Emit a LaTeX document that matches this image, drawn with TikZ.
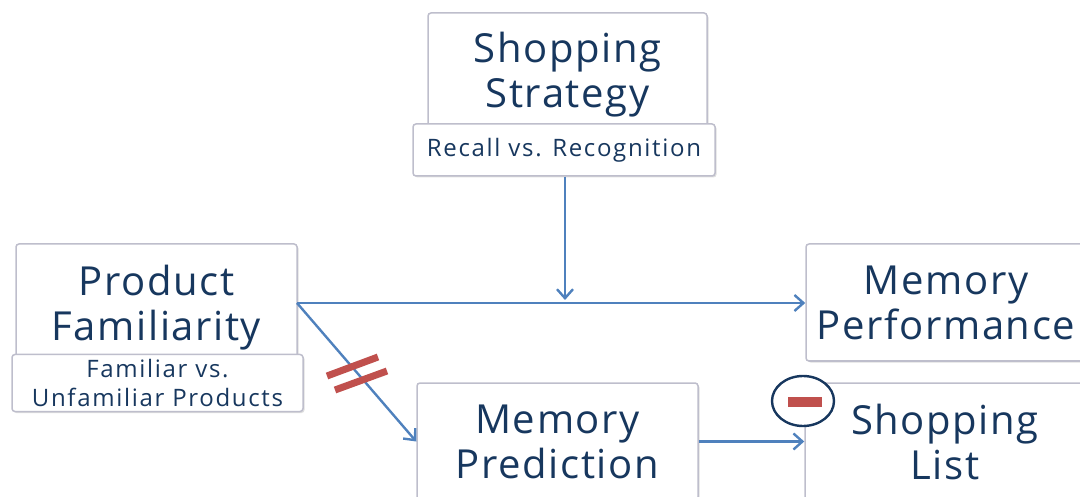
\documentclass[tikz,border=0pt]{standalone}
\usepackage{fontspec}
\setmainfont{Open Sans}
\newfontfamily\bigfont[LetterSpace=4]{Open Sans}
\newfontfamily\smallfont[LetterSpace=7]{Open Sans}
\usetikzlibrary{arrows.meta,shadows,shapes.geometric}
\definecolor{txt}{RGB}{23,55,94}
\definecolor{arr}{RGB}{79,129,189}
\definecolor{redbar}{RGB}{192,80,77}
\definecolor{bord}{RGB}{190,190,204}
\tikzset{
  box/.style={draw=bord, line width=1.5pt, fill=white, rounded corners=3pt,
    inner sep=0pt, align=center, text=txt,
    drop shadow={shadow xshift=1.5pt, shadow yshift=-1.5pt, fill=black!25, opacity=0.5},
    font=\bigfont\fontsize{40}{45}\selectfont},
  subbox/.style={box, font=\smallfont\fontsize{24}{29}\selectfont},
  conn/.style={draw=arr, line width=2.4pt, -{Straight Barb[length=9pt,width=16pt,line width=2.4pt]}},
  eqbar/.style={draw=redbar, line width=7pt}
}
\begin{document}
\begin{tikzpicture}[x=1pt,y=-1pt]
\useasboundingbox (0,0) rectangle (1080,497);
\clip (0,0) rectangle (1080,497);
% boxes
\node[box, minimum width=279pt, minimum height=123pt] (ss) at (567.5,74.5) {Shopping\\Strategy};
\node[subbox, minimum width=302pt, minimum height=52pt] (rr) at (564,150) {Recall vs. Recognition};
\node[box, minimum width=281pt, minimum height=127pt] (pf) at (156.5,307.5) {Product\\Familiarity};
\node[subbox, minimum width=291pt, minimum height=57pt] (fu) at (157.5,383) {Familiar vs.\\Unfamiliar Products};
\node[box, minimum width=280pt, minimum height=117pt] (mperf) at (946,302.5) {Memory\\Performance};
\node[box, minimum width=281pt, minimum height=117pt] (mpred) at (557.5,441.5) {Memory\\Prediction};
\node[box, minimum width=280pt, minimum height=117pt] (sl) at (945,441.5) {Shopping\\List};
% connectors
\coordinate (join) at (565,300);
\coordinate (pfe) at (297,303);
\draw[conn] (pfe) -- (mperf.west |- pfe);
\draw[conn] (rr.south -| join) -- (join);
\draw[conn] (pfe) -- (mpred.west);
\draw[conn] (mpred.east) -- (sl.west |- mpred.east);
% not-equal sign
\draw[eqbar] (327,376) -- (378,357);
\draw[eqbar] (335,390) -- (387,371);
% minus circle
\node[draw=txt, line width=2.4pt, fill=white, ellipse, minimum width=62pt, minimum height=50pt, inner sep=0pt] (minus) at (803,401) {};
\fill[redbar] (788,397) rectangle (822,407);
\end{tikzpicture}
\end{document}
